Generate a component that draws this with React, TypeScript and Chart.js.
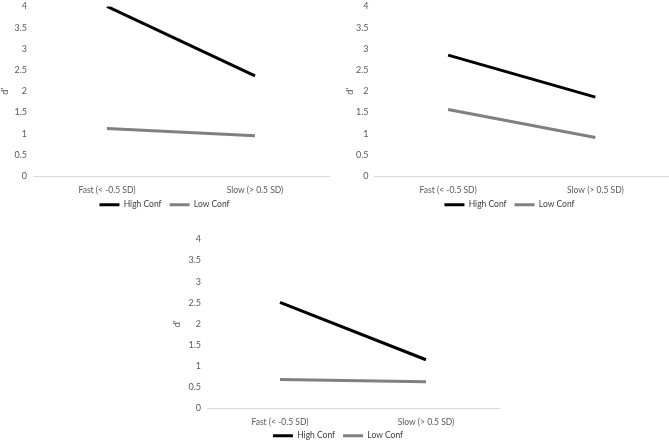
import React, { useEffect, useRef } from "react";
import { Chart, registerables } from "chart.js";

Chart.register(...registerables);

const categories = ["Fast (< -0.5 SD)", "Slow (> 0.5 SD)"];
const seriesNames = ["High Conf", "Low Conf"];
const yAxisTitle = "d'";

const panelAHigh = [4.0, 2.36];
const panelALow = [1.12, 0.95];
const panelBHigh = [2.85, 1.86];
const panelBLow = [1.57, 0.91];
const panelCHigh = [2.51, 1.15];
const panelCLow = [0.68, 0.63];

const TICK_FONT = { family: "Lato, 'Open Sans', sans-serif", size: 9 };
const LABEL_FONT = { family: "Lato, 'Open Sans', sans-serif", size: 8.5 };
const TEXT = "#595959";

type PanelProps = {
  high: number[];
  low: number[];
  left: number;
  top: number;
  width: number;
  height: number;
  padLeft: number;
  padRight: number;
  yWidth: number;
  xHeight: number;
  xPad: number;
  titleTop: number;
};

function Panel(p: PanelProps) {
  const ref = useRef<HTMLCanvasElement | null>(null);
  useEffect(() => {
    if (!ref.current) return;
    const chart = new Chart(ref.current, {
      type: "line",
      data: {
        labels: categories,
        datasets: [
          {
            label: seriesNames[0],
            data: p.high,
            borderColor: "#000000",
            backgroundColor: "#000000",
            borderWidth: 3,
            pointRadius: 0,
            tension: 0,
          },
          {
            label: seriesNames[1],
            data: p.low,
            borderColor: "#808080",
            backgroundColor: "#808080",
            borderWidth: 3,
            pointRadius: 0,
            tension: 0,
          },
        ],
      },
      options: {
        responsive: false,
        animation: false,
        layout: { padding: { left: p.padLeft, right: p.padRight, top: 0, bottom: 0 } },
        plugins: {
          tooltip: { enabled: false },
          legend: {
            position: "bottom",
            labels: {
              boxWidth: 20,
              boxHeight: 3,
              padding: 8,
              color: "#404040",
              font: LABEL_FONT,
              generateLabels: (c: any) =>
                (Chart.defaults.plugins.legend.labels.generateLabels as any)(c).map((l: any) => ({
                  ...l,
                  lineWidth: 0,
                })),
            },
          },
        },
        scales: {
          x: {
            type: "category",
            offset: true,
            grid: { display: false, drawTicks: false },
            border: { display: true, color: "#d9d9d9", width: 1 },
            ticks: { color: TEXT, font: LABEL_FONT, padding: p.xPad, maxRotation: 0 },
            afterFit: (s: any) => {
              s.height = p.xHeight;
              s._computeLabelArea = () => undefined;
            },
          },
          y: {
            min: 0,
            max: 4,
            ticks: {
              stepSize: 0.5,
              padding: 6,
              color: TEXT,
              font: TICK_FONT,
              callback: (v: any) => String(Number(v)),
            },
            grid: { display: false, drawTicks: false },
            border: { display: false },
            title: {
              display: true,
              text: yAxisTitle,
              color: TEXT,
              font: TICK_FONT,
              padding: { top: p.titleTop, bottom: 0 },
            },
            afterFit: (s: any) => {
              s.width = p.yWidth;
            },
          },
        },
      } as any,
    });
    return () => chart.destroy();
  }, []);
  return (
    <canvas
      ref={ref}
      width={p.width}
      height={p.height}
      style={{ position: "absolute", left: p.left, top: p.top, width: p.width, height: p.height }}
    />
  );
}

export default function App() {
  return (
    <div style={{ position: "absolute", left: 0, top: 0, width: 669, height: 444, background: "#fff", overflow: "hidden" }}>
      <Panel high={panelAHigh} low={panelALow} left={0} top={-5} width={335} height={224} padLeft={0} padRight={6} yWidth={33} xHeight={16.5} xPad={9} titleTop={0} />
      <Panel high={panelBHigh} low={panelBLow} left={335} top={-5} width={334} height={224} padLeft={15} padRight={0} yWidth={24.5} xHeight={16.5} xPad={9} titleTop={-5} />
      <Panel high={panelCHigh} low={panelCLow} left={172} top={228} width={337} height={222} padLeft={5} padRight={10} yWidth={30} xHeight={15.2} xPad={8.5} titleTop={-5} />
    </div>
  );
}
